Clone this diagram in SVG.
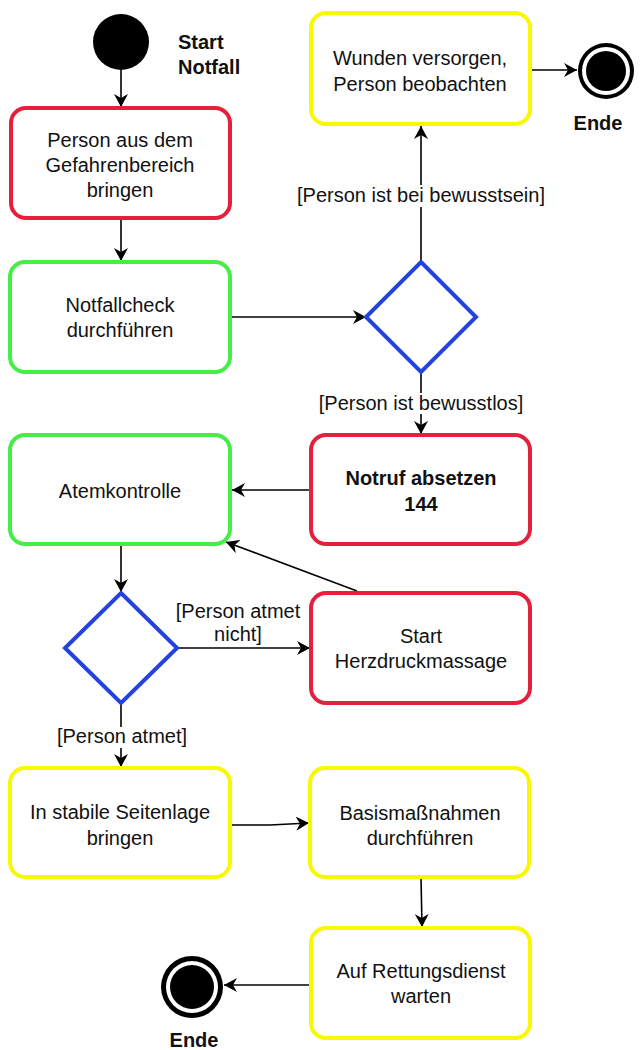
<svg xmlns="http://www.w3.org/2000/svg" width="641" height="1050" viewBox="0 0 641 1050">
<style>
text{font-family:"Liberation Sans",Arial,sans-serif;font-size:20px;fill:#111;text-anchor:middle}
.b{font-weight:bold}
.box{fill:#fff;stroke-width:4}
.red{stroke:#e5203c}
.green{stroke:#44ee44}
.yellow{stroke:#f8f800}
.dia{fill:#fff;stroke:#2342e0;stroke-width:4}
.edge{fill:none;stroke:#000;stroke-width:1.6}
.lbg{fill:#fff}
</style>
<defs>
<marker id="ah" markerUnits="userSpaceOnUse" markerWidth="14" markerHeight="14" refX="13" refY="7" orient="auto">
<path d="M0,0 L13,7 L0,14 L4,7 z" fill="#000"/>
</marker>
</defs>
<rect width="641" height="1050" fill="#fff"/>

<g id="connectors">
<path class="edge" d="M121,70 L121,107" marker-end="url(#ah)"/>
<path class="edge" d="M121,218 L121,261" marker-end="url(#ah)"/>
<path class="edge" d="M230,317 L366,317" marker-end="url(#ah)"/>
<path class="edge" d="M421,262 L421,126" marker-end="url(#ah)"/>
<path class="edge" d="M530,70 L577,70" marker-end="url(#ah)"/>
<path class="edge" d="M421,372 L421,434" marker-end="url(#ah)"/>
<path class="edge" d="M311,490 L232,490" marker-end="url(#ah)"/>
<path class="edge" d="M357,591 L226,542" marker-end="url(#ah)"/>
<path class="edge" d="M121,544 L121,592" marker-end="url(#ah)"/>
<path class="edge" d="M177,648 L310,648" marker-end="url(#ah)"/>
<path class="edge" d="M121,703 L121,767" marker-end="url(#ah)"/>
<path class="edge" d="M230,825 L270,825 L309,823" marker-end="url(#ah)"/>
<path class="edge" d="M421,877 L422,927" marker-end="url(#ah)"/>
<path class="edge" d="M311,985 L224,985" marker-end="url(#ah)"/>
<rect class="lbg" x="296" y="185" width="250" height="22"/>
<text x="421" y="202">[Person ist bei bewusstsein]</text>
<rect class="lbg" x="318" y="393" width="206" height="21"/>
<text x="421" y="410">[Person ist bewusstlos]</text>
<text x="238" y="618">[Person atmet</text>
<text x="238" y="641">nicht]</text>
<rect class="lbg" x="56" y="727" width="132" height="21"/>
<text x="122" y="743">[Person atmet]</text>
</g>

<g id="start">
<circle cx="121" cy="42" r="28" fill="#000"/>
<text class="b" x="178" y="49" style="text-anchor:start">Start</text>
<text class="b" x="178" y="74" style="text-anchor:start">Notfall</text>
</g>

<g id="gefahrenbereich">
<rect class="box red" x="11" y="108" width="219" height="110" rx="15"/>
<text x="120" y="147">Person aus dem</text>
<text x="120" y="172">Gefahrenbereich</text>
<text x="120" y="197">bringen</text>
</g>

<g id="notfallcheck">
<rect class="box green" x="10" y="262" width="220" height="110" rx="15"/>
<text x="120" y="312">Notfallcheck</text>
<text x="120" y="337">durchführen</text>
</g>

<g id="decision1">
<polygon class="dia" points="421,262 476,317 421,372 366,317"/>
</g>

<g id="wunden">
<rect class="box yellow" x="311" y="13" width="219" height="111" rx="15"/>
<text x="420" y="65">Wunden versorgen,</text>
<text x="420" y="91">Person beobachten</text>
</g>

<g id="ende1">
<circle cx="606" cy="71" r="28" fill="#000"/>
<circle cx="606" cy="71" r="24" fill="#fff"/>
<circle cx="606" cy="71" r="20" fill="#000"/>
<text class="b" x="598" y="130">Ende</text>
</g>

<g id="notruf">
<rect class="box red" x="311" y="435" width="219" height="109" rx="15"/>
<text class="b" x="421" y="485">Notruf absetzen</text>
<text class="b" x="421" y="511">144</text>
</g>

<g id="atemkontrolle">
<rect class="box green" x="10" y="435" width="220" height="109" rx="15"/>
<text x="120" y="498">Atemkontrolle</text>
</g>

<g id="decision2">
<polygon class="dia" points="121,593 177,648 121,703 65,648"/>
</g>

<g id="herzdruck">
<rect class="box red" x="311" y="593" width="219" height="110" rx="15"/>
<text x="421" y="643">Start</text>
<text x="421" y="668">Herzdruckmassage</text>
</g>

<g id="seitenlage">
<rect class="box yellow" x="10" y="768" width="220" height="109" rx="15"/>
<text x="120" y="819">In stabile Seitenlage</text>
<text x="120" y="845">bringen</text>
</g>

<g id="basis">
<rect class="box yellow" x="310" y="768" width="219" height="109" rx="15"/>
<text x="420" y="820">Basismaßnahmen</text>
<text x="420" y="845">durchführen</text>
</g>

<g id="rettungsdienst">
<rect class="box yellow" x="311" y="928" width="219" height="110" rx="15"/>
<text x="421" y="978">Auf Rettungsdienst</text>
<text x="421" y="1003">warten</text>
</g>

<g id="ende2">
<circle cx="192" cy="987" r="31" fill="#000"/>
<circle cx="192" cy="987" r="26" fill="#fff"/>
<circle cx="192" cy="987" r="22" fill="#000"/>
<text class="b" x="194" y="1047">Ende</text>
</g>
</svg>
